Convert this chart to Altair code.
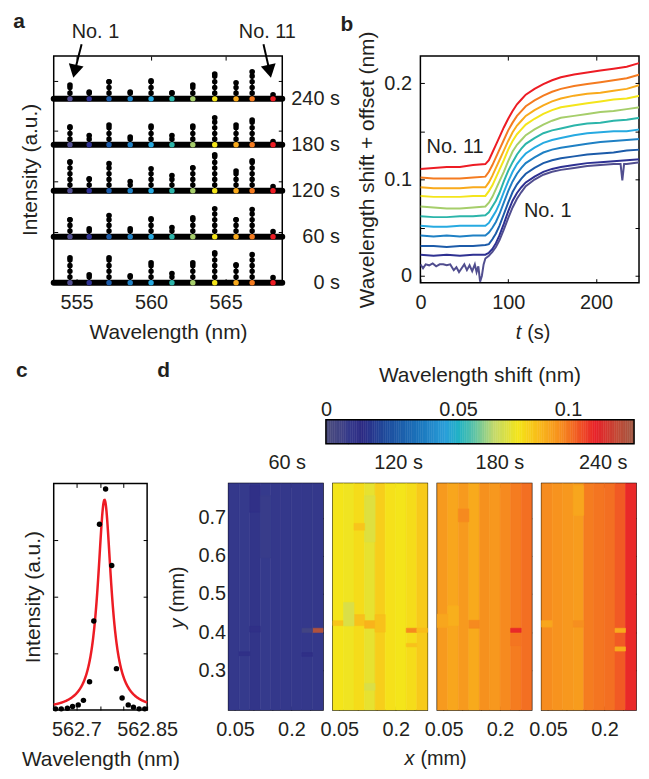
import altair as alt
import numpy as np
import pandas as pd

FONT = "Liberation Sans"
INK = "#231f20"
FS = 20
TS = 21

# ---------------- shared: resonance numbering ----------------
RES_NAMES = ["No. %d" % i for i in range(1, 12)]
RES_COLORS = ["#514e8f", "#2e3192", "#1c5ba9", "#1f80c4", "#27aae1", "#2cb5aa",
              "#a6ce6b", "#f4e51b", "#f9aa1c", "#f47b20", "#ed1c24"]

# ---------------- panel a: spectra ----------------
TIME_LABELS = ["0 s", "60 s", "120 s", "180 s", "240 s"]
TIME_LEVEL = [0, 1, 2, 3, 4]
PEAK_WL = [554.56, 555.85, 557.18, 558.60, 560.00, 561.40, 562.80, 564.27, 565.70, 566.78, 568.18]
PEAK_H_0 = [0.54, 0.17, 0.54, 0.15, 0.43, 0.20, 0.43, 0.65, 0.39, 0.61, 0.11]
PEAK_H_60 = [0.37, 0.17, 0.46, 0.17, 0.39, 0.20, 0.41, 0.61, 0.37, 0.59, 0.11]
PEAK_H_120 = [0.63, 0.26, 0.59, 0.20, 0.48, 0.33, 0.50, 0.78, 0.43, 0.65, 0.09]
PEAK_H_180 = [0.39, 0.20, 0.43, 0.17, 0.41, 0.20, 0.41, 0.59, 0.43, 0.54, 0.07]
PEAK_H_240 = [0.30, 0.15, 0.37, 0.15, 0.39, 0.13, 0.30, 0.54, 0.35, 0.59, 0.09]
A_X_TICKS = [555, 560, 565]
A_Y_TICKS = [1.1, 2.2, 3.3, 4.4]
ANN_LABELS = ["No. 1", "No. 11"]
ANN_WL = [556.27, 567.8]
ANN_Y = [5.45, 5.45]
ARROW_WL = [555.34, 567.54]
ARROW_Y = [5.19, 5.19]
HEAD_WL = [554.88, 567.95]
HEAD_Y = [4.6, 4.6]
HEAD_ANGLE = [13, 348]

# ---------------- panel b: time traces ----------------
B_T1 = [0, 3, 6, 10, 14, 18, 22, 26, 30, 34, 38, 41, 44, 47, 50, 53, 56, 59, 62, 64,
        66, 68, 70, 72, 74, 78, 82, 86, 90, 95, 100, 105, 110, 115, 120, 130, 140, 150, 160, 175,
        190, 205, 220, 228, 230, 232, 235, 250]
B_NO1 = [.012, .008, .012, .011, .013, .010, .012, .012, .011, .012, .006, .009, .004, .008, .012, .006, .011, .005, .012, .004,
         .010, -.006, .000, .012, .018, .021, .025, .030, .037, .048, .060, .071, .080, .087, .093, .100, .105, .108, .110, .112,
         .114, .115, .116, .116, .099, .116, .116, .118]
B_T = [0, 15, 30, 45, 60, 74, 78, 82, 86, 90, 95, 100, 105, 110, 115, 120, 130, 140, 150, 160, 175, 190, 205, 220, 235, 250]
B_NO2 = [.022, .021, .022, .021, .022, .022, .024, .028, .034, .042, .054, .067, .078, .086, .092, .097, .103, .108, .111, .113, .115, .117, .118, .119, .120, .121]
B_NO3 = [.031, .031, .030, .031, .031, .032, .033, .038, .044, .052, .064, .076, .087, .095, .101, .106, .112, .117, .120, .122, .124, .126, .127, .128, .130, .131]
B_NO4 = [.042, .041, .042, .041, .042, .042, .045, .050, .056, .064, .076, .088, .098, .106, .112, .117, .123, .128, .131, .133, .135, .137, .139, .140, .141, .142]
B_NO5 = [.052, .051, .051, .052, .052, .052, .055, .061, .067, .075, .087, .098, .108, .116, .122, .127, .133, .138, .141, .143, .146, .148, .149, .150, .150, .152]
B_NO6 = [.062, .061, .061, .062, .062, .063, .066, .072, .078, .086, .098, .109, .118, .126, .132, .137, .143, .148, .151, .153, .156, .158, .159, .161, .162, .164]
B_NO7 = [.072, .071, .070, .070, .071, .072, .076, .082, .090, .098, .108, .119, .129, .136, .141, .146, .152, .157, .161, .164, .166, .168, .170, .171, .173, .175]
B_NO8 = [.083, .082, .082, .082, .083, .083, .088, .094, .102, .110, .120, .131, .140, .147, .152, .157, .163, .168, .172, .175, .177, .179, .181, .183, .184, .187]
B_NO9 = [.092, .091, .091, .091, .092, .092, .097, .104, .112, .120, .130, .140, .149, .156, .161, .166, .172, .177, .181, .184, .187, .189, .190, .192, .194, .198]
B_NO10 = [.102, .101, .101, .101, .102, .103, .108, .115, .123, .131, .141, .151, .159, .166, .171, .176, .182, .187, .191, .194, .197, .199, .201, .203, .205, .209]
B_NO11 = [.111, .112, .113, .113, .115, .116, .120, .128, .136, .144, .154, .163, .171, .178, .183, .188, .194, .199, .203, .206, .209, .211, .213, .215, .217, .221]
B_X_TICKS = [0, 100, 200]
B_Y_TICKS = [0, 0.05, 0.1, 0.15, 0.2]
B_ANN = ["No. 11", "No. 1"]
B_ANN_T = [39.5, 145]
B_ANN_V = [0.134, 0.067]

# ---------------- panel c: single resonance ----------------
C_WL = [562.656, 562.668, 562.681, 562.692, 562.704, 562.715, 562.728, 562.737, 562.749,
        562.762, 562.775, 562.785, 562.797, 562.810, 562.821, 562.833, 562.845]
C_INT = [0.02, 0.02, 0.03, 0.06, 0.09, 0.17, 0.50, 1.57, 3.28, 3.90, 2.55, 0.73, 0.21, 0.09, 0.05, 0.02, 0.02]
FIT_X0, FIT_GAMMA, FIT_AMP = 562.7597, 0.0174, 3.71
C_X_TICKS = [562.7, 562.75, 562.8, 562.85]
C_Y_TICKS = [1, 2, 3]

# ---------------- panel d: maps ----------------
D_TIMES = ["60 s", "120 s", "180 s", "240 s"]
X_EDGES = [0.033, 0.061, 0.089, 0.117, 0.145, 0.172, 0.200, 0.228, 0.256, 0.284]
Y_LO, Y_HI = 0.195, 0.791
D_COLS = [
    [0.001, 0.000, 0.002, 0.000, 0.001, 0.001, 0.001, 0.001, 0.001],
    [0.077, 0.076, 0.079, 0.074, 0.082, 0.078, 0.077, 0.079, 0.083],
    [0.0935, 0.091, 0.0935, 0.090, 0.0955, 0.094, 0.097, 0.099, 0.101],
    [0.0965, 0.095, 0.094, 0.093, 0.099, 0.100, 0.101, 0.104, 0.111],
]
SPOTS = [
    ("60 s", 8, 0.399, 0.410, 0.126), ("60 s", 7, 0.399, 0.410, -0.005),
    ("60 s", 7, 0.336, 0.346, 0.004), ("60 s", 1, 0.338, 0.348, 0.004),
    ("60 s", 2, 0.715, 0.785, 0.004), ("60 s", 3, 0.595, 0.759, -0.001),
    ("60 s", 2, 0.400, 0.415, 0.004),
    ("120 s", 7, 0.399, 0.410, 0.097), ("120 s", 8, 0.399, 0.410, 0.086),
    ("120 s", 7, 0.361, 0.370, 0.085), ("120 s", 0, 0.417, 0.430, 0.084),
    ("120 s", 2, 0.417, 0.446, 0.085), ("120 s", 3, 0.410, 0.430, 0.088),
    ("120 s", 4, 0.400, 0.446, 0.085), ("120 s", 1, 0.416, 0.478, 0.071),
    ("120 s", 3, 0.637, 0.759, 0.072), ("120 s", 3, 0.247, 0.265, 0.071),
    ("120 s", 2, 0.668, 0.686, 0.084),
    ("180 s", 7, 0.399, 0.410, 0.111), ("180 s", 7, 0.364, 0.396, 0.100),
    ("180 s", 3, 0.410, 0.431, 0.097), ("180 s", 1, 0.417, 0.469, 0.089),
    ("180 s", 2, 0.690, 0.724, 0.097), ("180 s", 0, 0.412, 0.447, 0.091),
    ("240 s", 7, 0.399, 0.410, 0.090), ("240 s", 7, 0.350, 0.361, 0.090),
    ("240 s", 0, 0.413, 0.430, 0.091), ("240 s", 3, 0.413, 0.430, 0.096),
    ("240 s", 3, 0.707, 0.785, 0.091),
]
D_X_TICKS = [0.05, 0.1, 0.15, 0.2, 0.25]
D_Y_TICKS = [0.3, 0.4, 0.5, 0.6, 0.7]
D_TITLE_X = [59, 66, 63, 62]
CB_TICKS = [0, 0.05, 0.1]
CB_STOPS = [-0.01, -0.003, 0.0, 0.006, 0.018, 0.032, 0.044, 0.050, 0.057, 0.066, 0.077, 0.087, 0.097, 0.104, 0.112, 0.122, 0.13]
CB_COLORS = ["#4a4c7c", "#3f4186", "#353a8c", "#2d2b84", "#1e4f9f", "#1b75bc", "#2a9fd9", "#22b3c4", "#5ec3a6",
             "#c4da6c", "#f4e51a", "#f9b81b", "#f68a1f", "#f15a24", "#e8222a", "#c24a36", "#9d5a45"]


# ---------------- helpers ----------------
def axis(orient, values, labels=False, expr=None, title=None, lpad=6, tpad=6, tick=4, ticks=True, extra=None):
    kw = dict(orient=orient, values=values, domain=False, grid=False, labels=labels,
              labelFont=FONT, labelFontSize=FS, labelColor=INK, labelPadding=lpad,
              labelFlush=False, labelOverlap=False, format="~r",
              titleFont=FONT, titleFontSize=TS, titleColor=INK, titleFontWeight="normal",
              titlePadding=tpad, title=title)
    if ticks:
        kw.update(ticks=True, offset=-tick, tickSize=tick, tickColor="black", tickWidth=1)
    else:
        kw.update(ticks=False, tickSize=0)
    if expr is not None:
        kw["labelExpr"] = expr
    if extra:
        kw.update(extra)
    return alt.Axis(**kw)


def text_layer(label, x, y, size=FS, weight="normal", align="center", baseline="alphabetic",
               style="normal", angle=0, dx=0):
    return alt.Chart(pd.DataFrame({"lab": [label]})).mark_text(
        font=FONT, fontSize=size, fontWeight=weight, color=INK, align=align,
        baseline=baseline, fontStyle=style, angle=angle, dx=dx
    ).encode(x=alt.value(x), y=alt.value(y), text="lab:N")


def mirror(xs, ys, xvals, yvals, mx, my):
    return alt.Chart(pd.DataFrame({"mx": [mx], "my": [my]})).mark_point(opacity=0).encode(
        x=alt.X("mx:Q", scale=xs, axis=axis("top", xvals)),
        y=alt.Y("my:Q", scale=ys, axis=axis("right", yvals)),
    )


res_scale = alt.Scale(domain=RES_NAMES, range=RES_COLORS)
cscale = alt.Scale(domain=CB_STOPS, range=CB_COLORS, interpolate="rgb", nice=False, zero=False, clamp=True)

# ---------------- panel a ----------------
A_W, A_H = 230, 228
xa = alt.Scale(domain=[553.47, 568.8], nice=False, zero=False)
ya = alt.Scale(domain=[0, 4.93], nice=False, zero=False)

rows = []
for lab, lev, hs in zip(TIME_LABELS, TIME_LEVEL, [PEAK_H_0, PEAK_H_60, PEAK_H_120, PEAK_H_180, PEAK_H_240]):
    for name, wl, h in zip(RES_NAMES, PEAK_WL, hs):
        rows.append({"time": lab, "level": lev, "res": name, "wl": wl, "top": lev + h})
a_pk = pd.DataFrame(rows)
a_lv = pd.DataFrame({"time": TIME_LABELS, "level": TIME_LEVEL})

a_base = alt.Chart(a_lv).mark_rule(color="black", strokeWidth=6, strokeCap="round").encode(
    y=alt.Y("level:Q", scale=ya, axis=axis("left", A_Y_TICKS, title="Intensity (a.u.)", tpad=13)))
a_stem = alt.Chart(a_pk).mark_rule(color="black", strokeWidth=1.5).encode(
    x=alt.X("wl:Q", scale=xa, axis=axis("bottom", A_X_TICKS, labels=True, title="Wavelength (nm)", lpad=10, tpad=9)),
    y=alt.Y("level:Q", scale=ya, axis=None), y2="top:Q")
a_chain = alt.Chart(a_pk).mark_rule(color="black", strokeWidth=5.5, strokeDash=[0.1, 5.6], strokeCap="round").encode(
    x=alt.X("wl:Q", scale=xa, axis=None), y=alt.Y("level:Q", scale=ya, axis=None), y2="top:Q")
a_top = alt.Chart(a_pk).mark_circle(size=32, color="black", opacity=1).encode(
    x=alt.X("wl:Q", scale=xa, axis=None), y=alt.Y("top:Q", scale=ya, axis=None))
a_col = alt.Chart(a_pk).mark_circle(size=30, opacity=1).encode(
    x=alt.X("wl:Q", scale=xa, axis=None), y=alt.Y("level:Q", scale=ya, axis=None),
    color=alt.Color("res:N", scale=res_scale, legend=None))
a_tlab = alt.Chart(a_lv).mark_text(font=FONT, fontSize=FS, color=INK, align="right", baseline="middle").encode(
    x=alt.value(288), y=alt.Y("level:Q", scale=ya, axis=None), text="time:N")
ann = pd.DataFrame({"lab": ANN_LABELS, "wl": ANN_WL, "y": ANN_Y, "awl": ARROW_WL, "ay": ARROW_Y,
                    "hwl": HEAD_WL, "hy": HEAD_Y, "ang": HEAD_ANGLE})
a_ann = alt.Chart(ann).mark_text(font=FONT, fontSize=FS, color=INK, baseline="middle").encode(
    x=alt.X("wl:Q", scale=xa, axis=None), y=alt.Y("y:Q", scale=ya, axis=None), text="lab:N")
a_arrow = alt.Chart(ann).mark_rule(color="black", strokeWidth=2).encode(
    x=alt.X("awl:Q", scale=xa, axis=None), y=alt.Y("ay:Q", scale=ya, axis=None), x2="hwl:Q", y2="hy:Q")
a_head = alt.Chart(ann).mark_point(shape="triangle-down", filled=True, size=230, color="black", opacity=1).encode(
    x=alt.X("hwl:Q", scale=xa, axis=None), y=alt.Y("hy:Q", scale=ya, axis=None),
    angle=alt.Angle("ang:Q", scale=None))
panel_a = alt.layer(
    a_base, a_stem, a_chain, a_top, a_col, a_tlab, a_ann, a_arrow, a_head,
    mirror(xa, ya, A_X_TICKS, A_Y_TICKS, 560, 1),
    text_layer("a", -35, -28, size=TS, weight="bold"),
).resolve_axis(x="independent", y="independent").properties(width=A_W, height=A_H)

# ---------------- panel b ----------------
B_W, B_H = 220, 228
xb = alt.Scale(domain=[0, 249], nice=False, zero=False)
yb = alt.Scale(domain=[-0.007, 0.228], nice=False, zero=False)
series = [(RES_NAMES[0], B_T1, B_NO1)] + [
    (RES_NAMES[i], B_T, v) for i, v in enumerate(
        [B_NO2, B_NO3, B_NO4, B_NO5, B_NO6, B_NO7, B_NO8, B_NO9, B_NO10, B_NO11], start=1)]
brows = []
for name, ts, vs in series:
    for t, v in zip(ts, vs):
        brows.append({"res": name, "t": t, "v": v})
b_df = pd.DataFrame(brows)
b_lines = alt.Chart(b_df).mark_line(strokeWidth=2, clip=True).encode(
    x=alt.X("t:Q", scale=xb, axis=axis("bottom", B_X_TICKS, labels=True, lpad=10)),
    y=alt.Y("v:Q", scale=yb, axis=axis("left", B_Y_TICKS, labels=True,
                                       expr="datum.value == 0 || datum.value == 0.1 || datum.value == 0.2 ? datum.label : ''",
                                       title="Wavelength shift + offset (nm)", lpad=9, tpad=6)),
    color=alt.Color("res:N", scale=res_scale, legend=None))
b_ann = alt.Chart(pd.DataFrame({"lab": B_ANN, "t": B_ANN_T, "v": B_ANN_V})).mark_text(
    font=FONT, fontSize=FS, color=INK, baseline="middle").encode(
    x=alt.X("t:Q", scale=xb, axis=None), y=alt.Y("v:Q", scale=yb, axis=None), text="lab:N")
panel_b = alt.layer(
    b_lines, b_ann,
    mirror(xb, yb, [100, 200], B_Y_TICKS, 100, 0.1),
    text_layer("t", 101.5, B_H + 51, align="right", baseline="middle", style="italic"),
    text_layer("(s)", 101.5, B_H + 51, align="left", baseline="middle", dx=6),
    text_layer("b", -74, -25, size=TS, weight="bold"),
).resolve_axis(x="independent", y="independent").properties(width=B_W, height=B_H)

# ---------------- panel c ----------------
C_W, C_H = 94, 228
xc = alt.Scale(domain=[562.652, 562.85], nice=False, zero=False)
yc = alt.Scale(domain=[0, 4], nice=False, zero=False)
fx = np.linspace(562.652, 562.85, 300)
fit_df = pd.DataFrame({"wl": fx, "i": FIT_AMP / (1 + ((fx - FIT_X0) / FIT_GAMMA) ** 2)})
c_pts = alt.Chart(pd.DataFrame({"wl": C_WL, "i": C_INT})).mark_circle(size=30, color="black", opacity=1).encode(
    x=alt.X("wl:Q", scale=xc, axis=axis("bottom", C_X_TICKS, labels=True,
                                        expr="datum.value == 562.7 || datum.value == 562.85 ? datum.label : ''",
                                        title="Wavelength (nm)", lpad=10, tpad=9)),
    y=alt.Y("i:Q", scale=yc, axis=axis("left", C_Y_TICKS, title="Intensity (a.u.)", tpad=10)))
c_fit = alt.Chart(fit_df).mark_line(color="#ed1c24", strokeWidth=2.5).encode(
    x=alt.X("wl:Q", scale=xc, axis=None), y=alt.Y("i:Q", scale=yc, axis=None))
panel_c = alt.layer(
    c_fit, c_pts,
    mirror(xc, yc, [562.7, 562.75, 562.8], C_Y_TICKS, 562.75, 1),
    text_layer("c", -32, -107, size=TS, weight="bold"),
).resolve_axis(x="independent", y="independent").properties(width=C_W, height=C_H)

# ---------------- panel d ----------------
D_W, D_H = 95, 228
xd = alt.Scale(domain=[X_EDGES[0], X_EDGES[-1]], nice=False, zero=False)
yd = alt.Scale(domain=[Y_LO, Y_HI], nice=False, zero=False)


def d_panel(i):
    t = D_TIMES[i]
    base = pd.DataFrame({"x": X_EDGES[:-1], "x2": X_EDGES[1:], "y": [Y_LO] * 9, "y2": [Y_HI] * 9, "v": D_COLS[i]})
    sp = [s for s in SPOTS if s[0] == t]
    spots = pd.DataFrame({"x": [X_EDGES[s[1]] for s in sp], "x2": [X_EDGES[s[1] + 1] for s in sp],
                          "y": [s[2] for s in sp], "y2": [s[3] for s in sp], "v": [s[4] for s in sp]})
    enc = dict(x2="x2:Q", y2="y2:Q",
               fill=alt.Fill("v:Q", scale=cscale, legend=None),
               stroke=alt.Stroke("v:Q", scale=cscale, legend=None))
    l1 = alt.Chart(base).mark_rect(strokeWidth=0.6).encode(
        x=alt.X("x:Q", scale=xd, axis=axis("bottom", D_X_TICKS, labels=True,
                                           expr="datum.value == 0.05 || datum.value == 0.2 ? datum.label : ''",
                                           lpad=10)),
        y=alt.Y("y:Q", scale=yd, axis=axis("left", D_Y_TICKS, labels=(i == 0), lpad=3)), **enc)
    l2 = alt.Chart(spots).mark_rect(strokeWidth=0.6).encode(
        x=alt.X("x:Q", scale=xd, axis=None), y=alt.Y("y:Q", scale=yd, axis=None), **enc)
    layers = [l1, l2, mirror(xd, yd, D_X_TICKS, D_Y_TICKS, 0.1, 0.5),
              text_layer(t, D_TITLE_X[i], -15)]
    if i == 0:
        layers += [text_layer("d", -65.5, -107, size=TS, weight="bold"),
                   text_layer("y", -51, D_H / 2 + 22, align="right", baseline="middle", style="italic", angle=270),
                   text_layer("(mm)", -51, D_H / 2 + 22, align="left", baseline="middle", angle=270, dx=6)]
    if i == 1:
        layers += [text_layer("x", 82, D_H + 49, align="right", baseline="middle", style="italic"),
                   text_layer("(mm)", 82, D_H + 49, align="left", baseline="middle", dx=6)]
    return alt.layer(*layers).resolve_axis(x="independent", y="independent").properties(width=D_W, height=D_H)


# ---------------- colour bar ----------------
CB_W, CB_H = 584, 24
xcb = alt.Scale(domain=[-0.1337, 0.13], nice=False, zero=False)
ycb = alt.Scale(domain=[0, 1], nice=False, zero=False)
gv = np.round(np.arange(-0.01, 0.1295, 0.001), 4)
grad = pd.DataFrame({"v": gv, "v2": np.round(gv + 0.001, 4), "y0": 0.0, "y1": 1.0})
cb_grad = alt.Chart(grad).mark_rect(strokeWidth=0.5).encode(
    x=alt.X("v:Q", scale=xcb, axis=axis("top", CB_TICKS, labels=True, ticks=False, lpad=0,
                                        extra={"labelOffset": {"condition": {"test": "datum.value === 0", "value": -22}, "value": 0}})),
    x2="v2:Q",
    y=alt.Y("y0:Q", scale=ycb, axis=None), y2="y1:Q",
    fill=alt.Fill("v:Q", scale=cscale, legend=None), stroke=alt.Stroke("v:Q", scale=cscale, legend=None))
cb_frame = alt.Chart(pd.DataFrame({"a": [CB_STOPS[0]], "b": [CB_STOPS[-1]], "y0": [0.0], "y1": [1.0]})).mark_rect(
    fill="transparent", stroke="black", strokeWidth=1.5).encode(
    x=alt.X("a:Q", scale=xcb, axis=axis("bottom", CB_TICKS)), x2="b:Q",
    y=alt.Y("y0:Q", scale=ycb, axis=None), y2="y1:Q")
cb_title = alt.Chart(pd.DataFrame({"p": [0.06], "q": [1.0], "lab": ["Wavelength shift (nm)"]})).mark_text(
    font=FONT, fontSize=TS, color=INK, baseline="alphabetic", dy=-38).encode(
    x=alt.X("p:Q", scale=xcb, axis=None), y=alt.Y("q:Q", scale=ycb, axis=None), text="lab:N")
colorbar = alt.layer(cb_grad, cb_frame, cb_title).resolve_axis(x="independent").properties(
    width=CB_W, height=CB_H, view=alt.ViewBackground(stroke="transparent"))

# ---------------- layout ----------------
# (with flush bounds a nested concat counts as zero height, so the outer spacing spans row 1's plot height)
row1 = alt.hconcat(panel_a, panel_b, spacing=139, bounds="flush").resolve_scale(x="independent", y="independent")
dgroup = alt.hconcat(*[d_panel(i) for i in range(4)], spacing=10, bounds="flush").resolve_scale(x="independent", y="independent")
row3 = alt.hconcat(panel_c, dgroup, spacing=82, bounds="flush").resolve_scale(x="independent", y="independent")
lower = alt.vconcat(colorbar, row3, spacing=40, bounds="flush").resolve_scale(x="independent", y="independent")
chart = alt.vconcat(row1, lower, spacing=A_H + 138, bounds="flush").resolve_scale(
    x="independent", y="independent"
).properties(
    padding={"left": 4, "top": 0, "right": 0, "bottom": 0}
).configure_view(stroke="black", strokeWidth=1.5)

chart.save("out.html", embed_options={"renderer": "svg", "actions": False})
